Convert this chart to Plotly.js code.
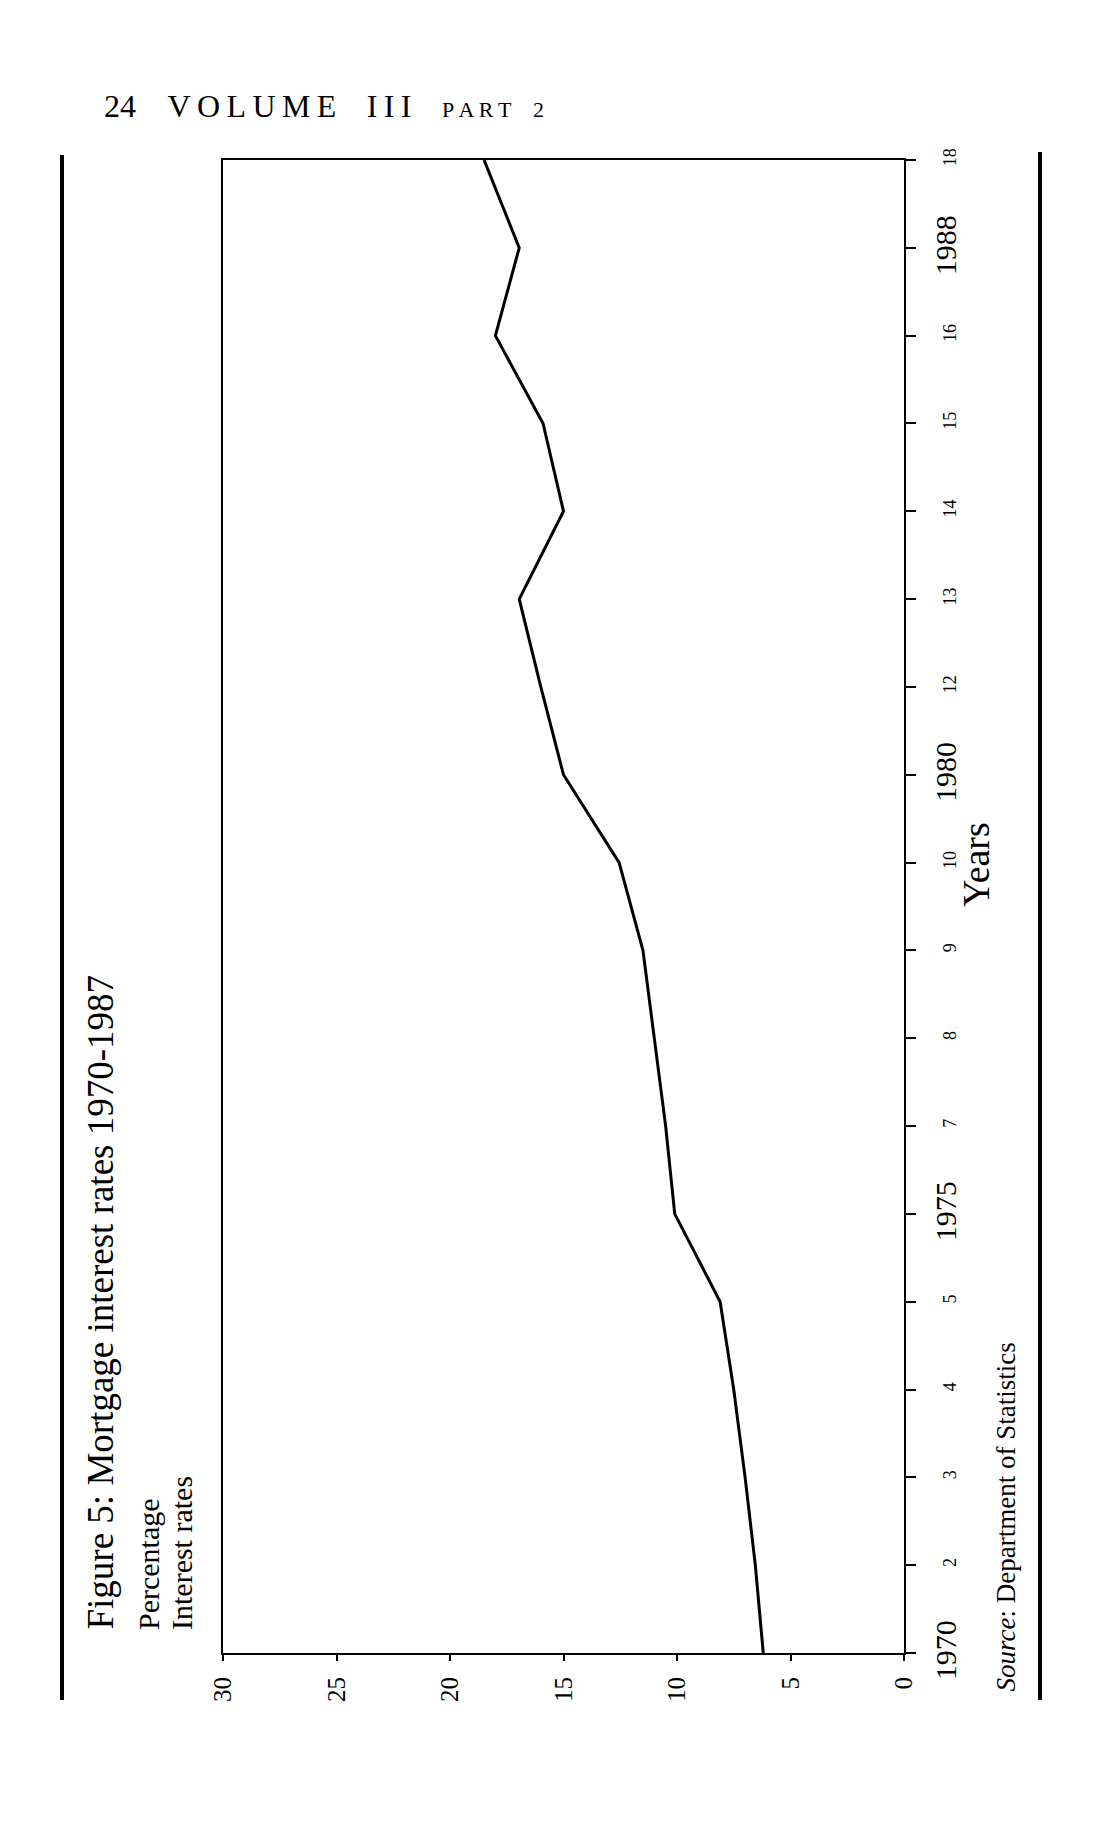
<!DOCTYPE html>
<html>
<head>
<meta charset="utf-8">
<script src="https://cdn.plot.ly/plotly-3.0.1.min.js"></script>
<style>html,body{margin:0;padding:0;background:#ffffff;}</style>
</head>
<body>
<div id="chart" style="width:1114px;height:1844px;"></div>
<script>
// ---- data ----
const yearIndex = [0, 1, 2, 3, 4, 5, 6, 7, 8, 9, 10, 11, 12, 13, 14, 15, 16, 17];
const yearLabels = ['1970', '2', '3', '4', '5', '1975', '7', '8', '9', '10', '1980', '12', '13', '14', '15', '16', '1988', '18'];
const interestRates = [6.2, 6.55, 7.0, 7.5, 8.1, 10.1, 10.5, 11.0, 11.5, 12.55, 15.0, 16.0, 16.95, 15.0, 15.9, 18.0, 16.95, 18.5];
const percentTicks = [0, 5, 10, 15, 20, 25, 30];

const titleText = 'Figure 5: Mortgage interest rates 1970-1987';
const unitLine1 = 'Percentage';
const unitLine2 = 'Interest rates';
const yearsTitle = 'Years';
const sourceText = '<i>Source</i>: Department of Statistics';

// ---- layout geometry (pixels) ----
const W = 1114, H = 1844;
const L = 223, R = 904, T = 160, B = 1653;
const px = x => (x - L) / (R - L);
const py = y => (B - y) / (B - T);
const FONT = 'Liberation Serif, Times New Roman, serif';

const ts = '\u2009';
const spaced = s => s.split('').join(ts);
const headerText = '24    ' + spaced('VOLUME') + '   ' + ts + spaced('III') + '   ' + ts +
  '<span style="font-size:22px">' + spaced('PART') + '    2</span>';

const yTickText = yearLabels.map(l => l.length === 4 ? '<span style="font-size:30px">' + l + '</span>' : l);

const trace = {
  x: interestRates,
  y: yearIndex,
  type: 'scatter',
  mode: 'lines',
  line: {color: '#000000', width: 3},
  hoverinfo: 'skip'
};

const layout = {
  width: W, height: H,
  margin: {l: L, r: W - R, t: T, b: H - B, pad: 0},
  paper_bgcolor: '#ffffff', plot_bgcolor: '#ffffff',
  showlegend: false,
  font: {family: FONT, color: '#000000'},
  xaxis: {
    range: [30, 0], tickmode: 'array', tickvals: percentTicks, ticktext: percentTicks.map(String),
    ticks: 'outside', ticklen: 6, tickwidth: 2, tickcolor: '#000000',
    tickangle: -90, tickfont: {size: 25, family: FONT, color: '#000'},
    ticklabelstandoff: 6,
    showline: true, linecolor: '#000000', linewidth: 2, mirror: true,
    showgrid: false, zeroline: false, fixedrange: true
  },
  yaxis: {
    range: [0, 17], side: 'right', tickmode: 'array', tickvals: yearIndex, ticktext: yTickText,
    ticks: 'outside', ticklen: 10, tickwidth: 2, tickcolor: '#000000',
    tickangle: -90, tickfont: {size: 18, family: FONT, color: '#000'},
    ticklabelstandoff: 18,
    showline: true, linecolor: '#000000', linewidth: 2, mirror: true,
    showgrid: false, zeroline: false, fixedrange: true
  },
  shapes: [
    {type: 'line', xref: 'paper', yref: 'paper', x0: px(62), x1: px(62), y0: py(155), y1: py(1700),
     line: {color: '#000000', width: 4}},
    {type: 'line', xref: 'paper', yref: 'paper', x0: px(1040), x1: px(1040), y0: py(152), y1: py(1700),
     line: {color: '#000000', width: 4}}
  ],
  annotations: [
    {text: headerText, xref: 'paper', yref: 'paper', x: px(102), y: py(106), xanchor: 'left', yanchor: 'middle',
     showarrow: false, font: {size: 32, family: FONT, color: '#000'}},
    {text: titleText, xref: 'paper', yref: 'paper', x: px(100), y: py(1632), xanchor: 'center', yanchor: 'bottom',
     textangle: -90, showarrow: false, font: {size: 37, family: FONT, color: '#000'}},
    {text: unitLine1, xref: 'paper', yref: 'paper', x: px(148), y: py(1632), xanchor: 'center', yanchor: 'bottom',
     textangle: -90, showarrow: false, font: {size: 30, family: FONT, color: '#000'}},
    {text: unitLine2, xref: 'paper', yref: 'paper', x: px(181), y: py(1632), xanchor: 'center', yanchor: 'bottom',
     textangle: -90, showarrow: false, font: {size: 30, family: FONT, color: '#000'}},
    {text: yearsTitle, xref: 'paper', yref: 'paper', x: px(976), y: py(865), xanchor: 'center', yanchor: 'middle',
     textangle: -90, showarrow: false, font: {size: 38, family: FONT, color: '#000'}},
    {text: sourceText, xref: 'paper', yref: 'paper', x: px(1006), y: py(1694), xanchor: 'center', yanchor: 'bottom',
     textangle: -90, showarrow: false, font: {size: 27, family: FONT, color: '#000'}}
  ]
};

Plotly.newPlot('chart', [trace], layout, {staticPlot: true, displayModeBar: false});
</script>
</body>
</html>
